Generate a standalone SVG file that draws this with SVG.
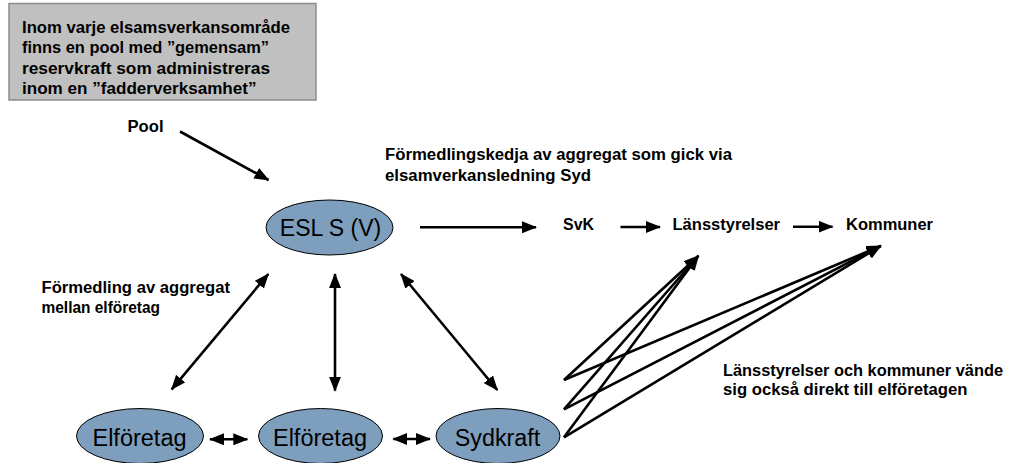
<svg xmlns="http://www.w3.org/2000/svg" width="1009" height="463" viewBox="0 0 1009 463">
  <style>
    .note { font-family: "Liberation Sans", Arial, sans-serif; font-weight: bold; font-size: 16px; fill: #000; }
    .lbl { font-family: "Liberation Sans", Arial, sans-serif; font-size: 23px; fill: #000; text-anchor: middle; }
    .node { fill: #7d9ebd; stroke: #000; stroke-width: 1; }
    .edge { fill: none; stroke: #000; stroke-width: 2.6; }
    .box { fill: #c0c0c0; stroke: #8c8c8c; stroke-width: 1.5; }
  </style>
  <defs>
    <marker id="head" viewBox="0 0 15 12" refX="14" refY="6" markerWidth="15" markerHeight="12" markerUnits="userSpaceOnUse" orient="auto-start-reverse">
      <path d="M0,0 L15,6 L0,12 z" fill="#000"/>
    </marker>
  </defs>

  <rect width="1009" height="463" fill="#fff"/>

  <!-- info box -->
  <g id="info">
    <rect class="box" x="9" y="3.5" width="307" height="96.5"/>
    <text class="note" x="22" y="32.5" textLength="268" lengthAdjust="spacingAndGlyphs">Inom varje elsamsverkansområde</text>
    <text class="note" x="22" y="53" textLength="247" lengthAdjust="spacingAndGlyphs">finns en pool med ”gemensam”</text>
    <text class="note" x="22" y="73.5" textLength="248" lengthAdjust="spacingAndGlyphs">reservkraft som administreras</text>
    <text class="note" x="22" y="94" textLength="234.5" lengthAdjust="spacingAndGlyphs">inom en ”fadderverksamhet”</text>
  </g>

  <!-- free labels -->
  <g id="labels">
    <text class="note" x="127.5" y="131.5" textLength="36" lengthAdjust="spacingAndGlyphs">Pool</text>
    <text class="note" x="385" y="160" textLength="347" lengthAdjust="spacingAndGlyphs">Förmedlingskedja av aggregat som gick via</text>
    <text class="note" x="385" y="180.5" textLength="206" lengthAdjust="spacingAndGlyphs">elsamverkansledning Syd</text>
    <text class="note" x="41.5" y="292.5" textLength="188.5" lengthAdjust="spacingAndGlyphs">Förmedling av aggregat</text>
    <text class="note" x="41.5" y="312.5" textLength="118.5" lengthAdjust="spacingAndGlyphs">mellan elföretag</text>
    <text class="note" x="723" y="376" textLength="280" lengthAdjust="spacingAndGlyphs">Länsstyrelser och kommuner vände</text>
    <text class="note" x="723" y="395" textLength="244.5" lengthAdjust="spacingAndGlyphs">sig också direkt till elföretagen</text>
  </g>

  <!-- chain nodes -->
  <g id="svk"><text class="note" x="563" y="230" textLength="31" lengthAdjust="spacingAndGlyphs">SvK</text></g>
  <g id="lansstyrelser"><text class="note" x="672.5" y="230" textLength="107.5" lengthAdjust="spacingAndGlyphs">Länsstyrelser</text></g>
  <g id="kommuner"><text class="note" x="846" y="230" textLength="87" lengthAdjust="spacingAndGlyphs">Kommuner</text></g>

  <!-- ellipse nodes -->
  <g id="esl">
    <ellipse class="node" cx="329.5" cy="227.5" rx="63.5" ry="27.5"/>
    <text class="lbl" x="330.5" y="235.5">ESL S (V)</text>
  </g>
  <g id="elforetag1">
    <ellipse class="node" cx="140" cy="436" rx="63.5" ry="27.5"/>
    <text class="lbl" x="139.5" y="446" style="font-size:23.5px">Elföretag</text>
  </g>
  <g id="elforetag2">
    <ellipse class="node" cx="320.5" cy="436" rx="62" ry="27.5"/>
    <text class="lbl" x="320" y="446" style="font-size:23.5px">Elföretag</text>
  </g>
  <g id="sydkraft">
    <ellipse class="node" cx="498" cy="436" rx="62" ry="27.5"/>
    <text class="lbl" x="497.5" y="446" style="font-size:23.3px">Sydkraft</text>
  </g>

  <!-- connectors -->
  <g id="connectors">
    <line class="edge" x1="180" y1="131.5" x2="268.5" y2="180" marker-end="url(#head)"/>
    <line class="edge" x1="420" y1="227.3" x2="536" y2="227.3" marker-end="url(#head)"/>
    <line class="edge" x1="620.5" y1="227" x2="660" y2="227" marker-end="url(#head)"/>
    <line class="edge" x1="793" y1="226.7" x2="832.5" y2="226.7" marker-end="url(#head)"/>

    <line class="edge" x1="268.3" y1="274" x2="171.7" y2="389.3" marker-start="url(#head)" marker-end="url(#head)"/>
    <line class="edge" x1="335" y1="274" x2="335" y2="390.7" marker-start="url(#head)" marker-end="url(#head)"/>
    <line class="edge" x1="401" y1="274" x2="497.3" y2="390" marker-start="url(#head)" marker-end="url(#head)"/>

    <line class="edge" x1="210" y1="439.3" x2="247.3" y2="439.3" marker-start="url(#head)" marker-end="url(#head)"/>
    <line class="edge" x1="393.3" y1="439" x2="430" y2="439" marker-start="url(#head)" marker-end="url(#head)"/>

    <line class="edge" x1="564" y1="380" x2="698.3" y2="256" marker-end="url(#head)"/>
    <line class="edge" x1="564" y1="409.3" x2="698.3" y2="256" marker-end="url(#head)"/>
    <line class="edge" x1="564" y1="437.3" x2="698.3" y2="256" marker-end="url(#head)"/>
    <line class="edge" x1="564" y1="380" x2="880.7" y2="246" marker-end="url(#head)"/>
    <line class="edge" x1="564" y1="409.3" x2="880.7" y2="246" marker-end="url(#head)"/>
    <line class="edge" x1="564" y1="437.3" x2="880.7" y2="246" marker-end="url(#head)"/>
  </g>
</svg>
